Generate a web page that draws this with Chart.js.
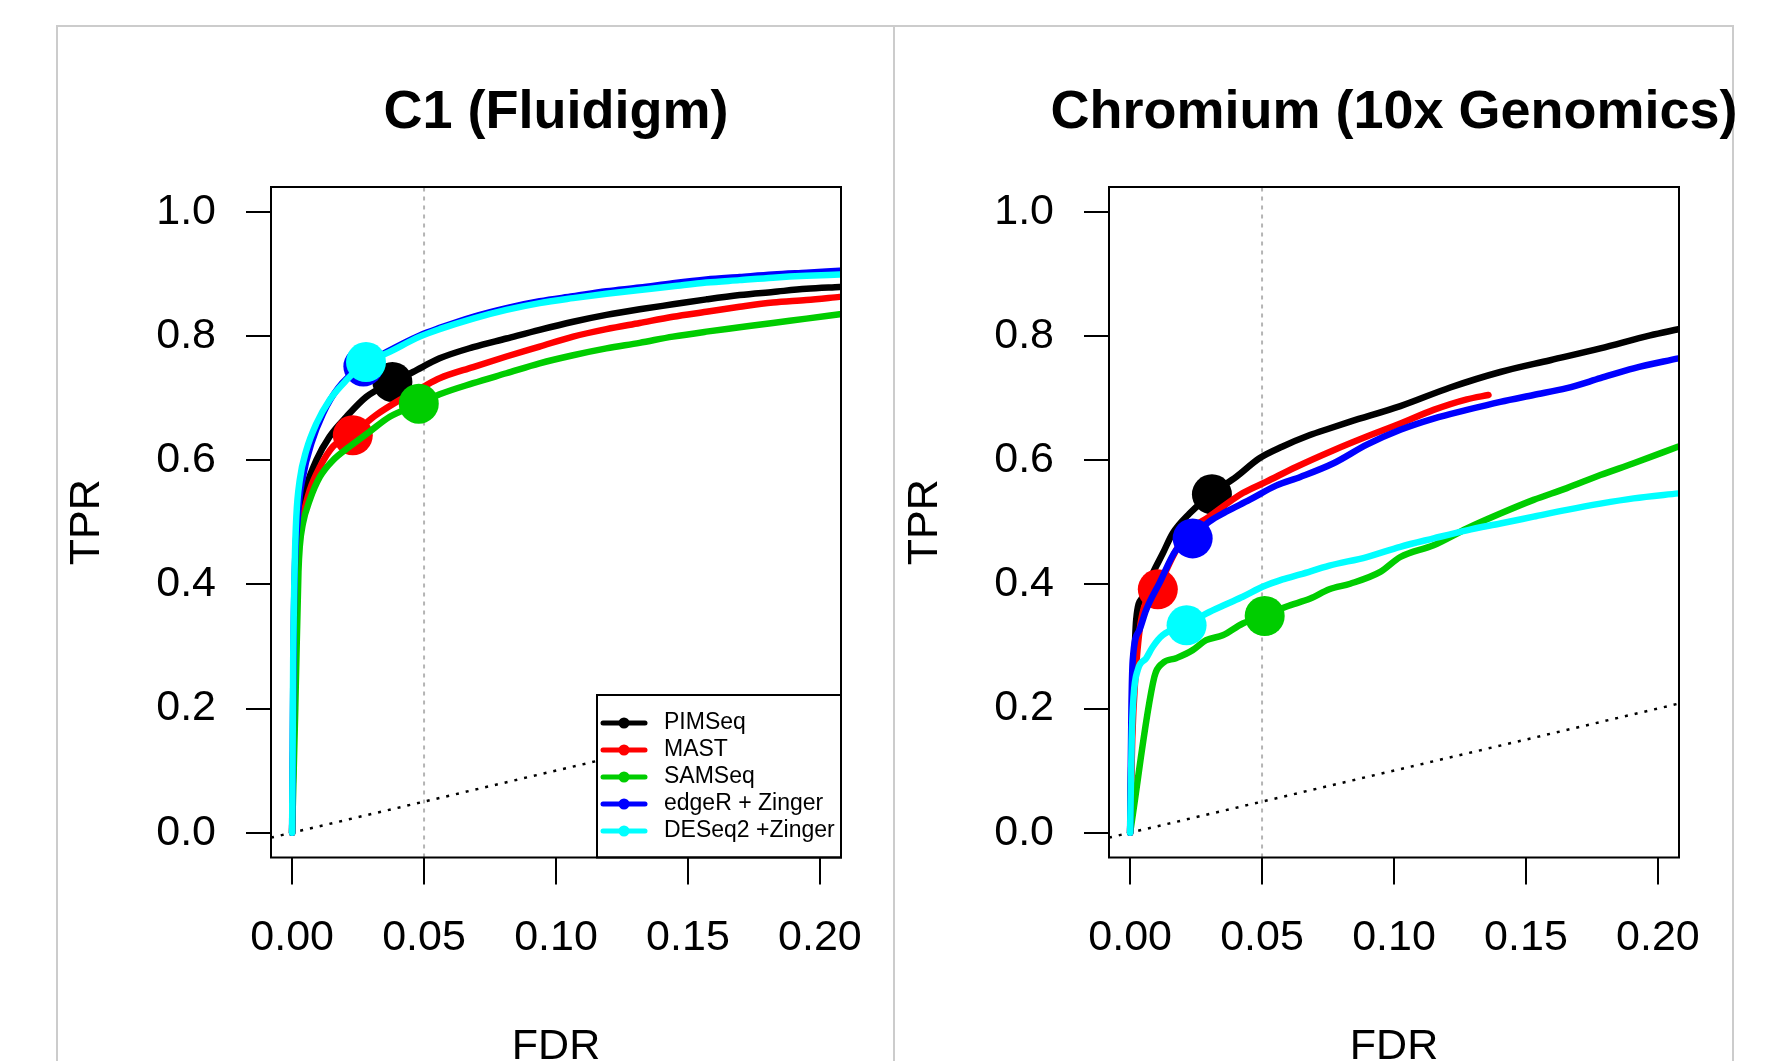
<!DOCTYPE html>
<html>
<head>
<meta charset="utf-8">
<script src="https://cdn.jsdelivr.net/npm/chart.js@4.4.1/dist/chart.umd.min.js"></script>
<style>
    html, body { margin: 0; padding: 0; background: #ffffff; }
    body { width: 1784px; height: 1061px; position: relative; overflow: hidden; }
    .frame { position: absolute; top: 25px; height: 1100px; box-sizing: border-box; border: 2px solid #cccccc; }
    canvas { position: absolute; top: 0; }
</style>
</head>
<body>
<div class="frame" style="left:56px; width:839px"></div>
<div class="frame" style="left:893px; width:841px"></div>
<canvas id="c1" width="870" height="1061" style="left:60px"></canvas>
<canvas id="c2" width="870" height="1061" style="left:898px"></canvas>
<script>
// Methods and colours (legend order)
const methods = ['PIMSeq', 'MAST', 'SAMSeq', 'edgeR + Zinger', 'DESeq2 +Zinger'];
const colors = ['#000000', '#ff0000', '#00cd00', '#0000ff', '#00ffff'];

// Axis ticks
const xTicks = [0, 0.05, 0.10, 0.15, 0.20];
const yTicks = [0, 0.2, 0.4, 0.6, 0.8, 1.0];
const xRange = [-0.008, 0.208];
const yRange = [-0.04, 1.04];
const fdrCutoff = 0.05;

// C1 (Fluidigm) curves, [FDR, TPR]
const c1Pim = [[0,0],[0.0008,0.25],[0.0014,0.43],[0.002,0.48],[0.0035,0.52],[0.0054,0.557],[0.0092,0.600],[0.0142,0.638],[0.0206,0.670],[0.0281,0.702],[0.0382,0.726],[0.0458,0.742],[0.0559,0.764],[0.0686,0.782],[0.0812,0.796],[0.0938,0.810],[0.1065,0.823],[0.1191,0.834],[0.1317,0.843],[0.1443,0.851],[0.157,0.859],[0.1696,0.866],[0.1822,0.871],[0.1949,0.876],[0.2075,0.879]];
const c1Mast = [[0,0],[0.001,0.3],[0.0018,0.44],[0.0024,0.47],[0.0041,0.509],[0.0067,0.552],[0.0105,0.589],[0.0155,0.622],[0.0231,0.643],[0.0319,0.673],[0.042,0.70],[0.0496,0.718],[0.0559,0.732],[0.0686,0.750],[0.0812,0.767],[0.0938,0.783],[0.1065,0.799],[0.1191,0.811],[0.1317,0.821],[0.1443,0.831],[0.157,0.839],[0.1696,0.847],[0.1822,0.854],[0.1949,0.858],[0.2075,0.863]];
const c1Sam = [[0,0],[0.0012,0.2],[0.0024,0.42],[0.0029,0.461],[0.0041,0.498],[0.0067,0.536],[0.0105,0.573],[0.0155,0.600],[0.0218,0.622],[0.0294,0.646],[0.037,0.670],[0.0484,0.691],[0.0559,0.706],[0.0686,0.724],[0.0812,0.740],[0.0938,0.756],[0.1065,0.769],[0.1191,0.780],[0.1317,0.789],[0.1443,0.799],[0.157,0.807],[0.1696,0.814],[0.1822,0.821],[0.1949,0.828],[0.2075,0.835]];
const c1Edger = [[0,0],[0.0006,0.326],[0.0022,0.509],[0.0041,0.573],[0.0073,0.627],[0.0117,0.675],[0.0174,0.716],[0.0256,0.749],[0.0357,0.774],[0.0484,0.801],[0.0559,0.813],[0.0686,0.831],[0.0812,0.845],[0.0938,0.856],[0.1065,0.864],[0.1191,0.872],[0.1317,0.878],[0.1443,0.885],[0.157,0.891],[0.1696,0.895],[0.1822,0.899],[0.1949,0.902],[0.2075,0.905]];
const c1Deseq = [[0,0],[0.0004,0.273],[0.001,0.434],[0.0016,0.509],[0.0029,0.568],[0.0054,0.616],[0.0092,0.659],[0.0142,0.697],[0.0206,0.729],[0.0281,0.758],[0.0357,0.772],[0.0484,0.799],[0.0559,0.811],[0.0686,0.828],[0.0812,0.842],[0.0938,0.853],[0.1065,0.861],[0.1191,0.868],[0.1317,0.874],[0.1443,0.880],[0.157,0.886],[0.1696,0.890],[0.1822,0.894],[0.1949,0.897],[0.2075,0.899]];
const c1Points = [[0.038,0.726],[0.023,0.640],[0.048,0.691],[0.027,0.751],[0.028,0.758]];

// Chromium (10x Genomics) curves, [FDR, TPR]
const chrPim = [[0,0],[0.0006,0.15],[0.0013,0.246],[0.0023,0.343],[0.0048,0.380],[0.0086,0.418],[0.0124,0.450],[0.0161,0.482],[0.0225,0.514],[0.0313,0.547],[0.0402,0.573],[0.049,0.603],[0.0578,0.622],[0.0679,0.640],[0.0755,0.651],[0.0834,0.662],[0.1024,0.687],[0.1213,0.717],[0.1403,0.742],[0.1592,0.761],[0.1782,0.780],[0.1971,0.801],[0.2078,0.811]];
const chrMast = [[0,0],[0.0008,0.15],[0.002,0.25],[0.0042,0.343],[0.0105,0.394],[0.0161,0.444],[0.0212,0.482],[0.030,0.509],[0.0427,0.547],[0.0515,0.565],[0.0629,0.589],[0.0771,0.616],[0.0897,0.638],[0.1024,0.659],[0.115,0.681],[0.1276,0.698],[0.1358,0.705]];
const chrSam = [[0,0],[0.0092,0.251],[0.0123,0.273],[0.0174,0.281],[0.0237,0.294],[0.0288,0.310],[0.0351,0.318],[0.0427,0.337],[0.0513,0.350],[0.0591,0.364],[0.0683,0.377],[0.0755,0.392],[0.0834,0.401],[0.0948,0.420],[0.1024,0.444],[0.115,0.463],[0.1276,0.490],[0.1403,0.514],[0.1529,0.536],[0.1655,0.555],[0.1782,0.576],[0.1908,0.595],[0.2078,0.622]];
const chrEdger = [[0,0],[0.0005,0.2],[0.001,0.278],[0.0035,0.326],[0.0061,0.359],[0.0111,0.402],[0.0174,0.455],[0.0237,0.476],[0.030,0.501],[0.0364,0.517],[0.0452,0.536],[0.0553,0.559],[0.0645,0.573],[0.0771,0.595],[0.0897,0.625],[0.1024,0.649],[0.115,0.667],[0.1276,0.681],[0.1403,0.694],[0.1529,0.705],[0.1655,0.716],[0.1782,0.732],[0.1908,0.748],[0.2078,0.764]];
const chrDeseq = [[0,0],[0.0006,0.15],[0.0013,0.219],[0.0029,0.262],[0.0061,0.281],[0.0086,0.2995],[0.0123,0.318],[0.0214,0.335],[0.0288,0.353],[0.0364,0.368],[0.0427,0.380],[0.0502,0.396],[0.0578,0.408],[0.0645,0.416],[0.0755,0.430],[0.0897,0.444],[0.1024,0.4605],[0.115,0.474],[0.1276,0.487],[0.1403,0.498],[0.1529,0.509],[0.1655,0.520],[0.1782,0.530],[0.1908,0.5385],[0.2078,0.5465]];
const chrPoints = [[0.031,0.545],[0.0105,0.392],[0.051,0.349],[0.0237,0.474],[0.0214,0.334]];

const FONT = "'Liberation Sans', Arial, Helvetica, sans-serif";
Chart.defaults.font.family = FONT;
Chart.defaults.color = '#000';

const toXY = pts => pts.map(p => ({ x: p[0], y: p[1] }));

// Box, titles, axis labels and the inset legend
const panelDecor = {
    id: 'panelDecor',
    afterDraw(chart, args, opts) {
        const ctx = chart.ctx;
        const a = chart.chartArea;
        const midX = (a.left + a.right) / 2;
        ctx.save();
        ctx.fillStyle = '#000';
        ctx.strokeStyle = '#000';

        ctx.font = 'bold 54px ' + FONT;
        ctx.textAlign = 'center';
        ctx.textBaseline = 'alphabetic';
        ctx.fillText(opts.title, midX, 128);

        ctx.font = '43px ' + FONT;
        ctx.fillText('FDR', midX, 1059);
        ctx.save();
        ctx.translate(a.left - 172, (a.top + a.bottom) / 2);
        ctx.rotate(-Math.PI / 2);
        ctx.fillText('TPR', 0, 0);
        ctx.restore();

        if (opts.legend) {
            const lx = a.left + 326;
            const ly = 695;
            ctx.fillStyle = '#fff';
            ctx.fillRect(lx, ly, a.right - lx, a.bottom - ly);
            ctx.lineWidth = 2;
            ctx.strokeRect(lx, ly, a.right - lx, a.bottom - ly);
            ctx.font = '23px ' + FONT;
            ctx.textAlign = 'left';
            ctx.textBaseline = 'middle';
            methods.forEach((m, i) => {
                const y = ly + 28 + i * 27;
                ctx.strokeStyle = colors[i];
                ctx.lineWidth = 5;
                ctx.lineCap = 'round';
                ctx.beginPath();
                ctx.moveTo(lx + 6, y);
                ctx.lineTo(lx + 48, y);
                ctx.stroke();
                ctx.fillStyle = colors[i];
                ctx.beginPath();
                ctx.arc(lx + 27, y, 5.5, 0, Math.PI * 2);
                ctx.fill();
                ctx.fillStyle = '#000';
                ctx.fillText(m, lx + 67, y);
            });
        }

        ctx.strokeStyle = '#000';
        ctx.lineWidth = 2;
        ctx.strokeRect(a.left, a.top, a.right - a.left, a.bottom - a.top);
        ctx.restore();
    }
};

function makePanel(canvasId, title, curves, points, showLegend) {
    const datasets = [];

    // dotted reference lines: FDR cutoff and the diagonal
    datasets.push({
        data: [{ x: fdrCutoff, y: yRange[0] }, { x: fdrCutoff, y: yRange[1] }],
        showLine: true, borderColor: '#b4b4b4', borderWidth: 2, borderDash: [4, 5],
        pointRadius: 0, clip: 0, order: 100
    });
    datasets.push({
        data: xRange.map(v => ({ x: v, y: v })),
        showLine: true, borderColor: '#000', borderWidth: 2.5, borderDash: [3, 7],
        pointRadius: 0, clip: 0, order: 99
    });

    curves.forEach((pts, i) => {
        datasets.push({
            label: methods[i],
            data: toXY(pts),
            showLine: true,
            borderColor: colors[i],
            borderWidth: 6.5,
            borderCapStyle: 'round',
            borderJoinStyle: 'round',
            cubicInterpolationMode: 'monotone',
            pointRadius: 0,
            clip: 0,
            order: 50 - 2 * i
        });
        datasets.push({
            data: toXY([points[i]]),
            backgroundColor: colors[i],
            pointRadius: 20,
            pointBorderWidth: 0,
            order: 49 - 2 * i
        });
    });

    return new Chart(document.getElementById(canvasId), {
        type: 'scatter',
        data: { datasets: datasets },
        plugins: [panelDecor],
        options: {
            responsive: false,
            animation: false,
            devicePixelRatio: 1,
            events: [],
            layout: { padding: { left: 51, right: 89, top: 187, bottom: 53.5 } },
            plugins: {
                legend: { display: false },
                tooltip: { enabled: false },
                panelDecor: { title: title, legend: showLegend }
            },
            scales: {
                x: {
                    type: 'linear',
                    min: xRange[0],
                    max: xRange[1],
                    afterBuildTicks: s => { s.ticks = xTicks.map(v => ({ value: v })); },
                    afterFit: s => { s.height = 150; },
                    ticks: {
                        autoSkip: false, maxRotation: 0, minRotation: 0,
                        padding: 28, color: '#000',
                        font: { size: 43 },
                        callback: v => v.toFixed(2)
                    },
                    grid: { drawOnChartArea: false, drawTicks: true, tickLength: 27, color: '#000', lineWidth: 2 },
                    border: { display: false }
                },
                y: {
                    type: 'linear',
                    min: yRange[0],
                    max: yRange[1],
                    afterBuildTicks: s => { s.ticks = yTicks.map(v => ({ value: v })); },
                    afterFit: s => { s.width = 160; },
                    ticks: {
                        autoSkip: false, padding: 30, color: '#000',
                        font: { size: 43 },
                        callback: v => v.toFixed(1)
                    },
                    grid: { drawOnChartArea: false, drawTicks: true, tickLength: 25, color: '#000', lineWidth: 2 },
                    border: { display: false }
                }
            }
        }
    });
}

makePanel('c1', 'C1 (Fluidigm)', [c1Pim, c1Mast, c1Sam, c1Edger, c1Deseq], c1Points, true);
makePanel('c2', 'Chromium (10x Genomics)', [chrPim, chrMast, chrSam, chrEdger, chrDeseq], chrPoints, false);
</script>
</body>
</html>
